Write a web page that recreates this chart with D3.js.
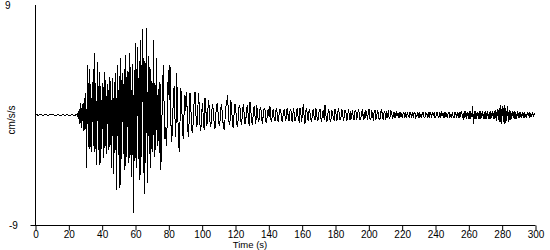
<!DOCTYPE html>
<html>
<head>
<meta charset="utf-8">
<script src="https://cdn.jsdelivr.net/npm/d3@7"></script>
<style>
  body { margin: 0; background: #fff; }
  svg { display: block; }
  text { font-family: "Liberation Sans", Arial, sans-serif; font-size: 10px; fill: #000; }
</style>
</head>
<body>
<svg width="550" height="250"></svg>
<script>
// acceleration record (cm/s/s)
const preEvent = [ // t = 0..25 s, every 1 s
  0.0, 0.03, -0.03, 0.02, 0.0, -0.02, 0.03, 0.0, -0.03, 0.02, 0.0, 0.03, -0.02,
  0.0, 0.02, -0.03, 0.0, 0.03, -0.02, 0.02, 0.0, -0.03, 0.03, 0.0, -0.02, 0.05
];
const strongMotion = [ // t = 25.5..75 s, every 0.5 s
  0.1, -0.3, 0.5, -0.7, 1.0, -1.1, 0.9, -1.3, 1.4, -1.2,
  1.8, -4.3, 4.1, -2.6, 3.8, -2.8, 2.5, -3.0, 2.7, -2.5,
  5.1, -3.0, 2.6, -4.1, 4.3, -2.9, 3.5, -4.1, 2.4, -2.8,
  2.6, -3.5, 3.5, -2.7, 2.9, -3.2, 2.5, -2.9, 3.1, -2.6,
  2.8, -4.3, 3.0, -4.8, 2.7, -3.1, 3.4, -6.1, 4.1, -3.3,
  3.2, -6.0, 4.7, -3.6, 3.4, -3.2, 3.8, -4.5, 4.9, -3.4,
  3.6, -3.9, 5.1, -3.5, 3.9, -5.1, 4.2, -8.0, 3.7, -3.8,
  5.9, -4.3, 5.6, -3.6, 4.4, -5.3, 6.1, -3.4, 7.0, 3.2,
  -6.5, 4.4, -3.9, 7.1, -5.6, 4.8, -3.2, 3.9, -4.3, 2.8,
  -3.0, 6.1, -3.4, 2.6, -2.9, 4.7, -2.5, 2.1, -3.1, 2.7
];
const coda = [ // t = 75.5..160 s, every 0.5 s
  -4.5, -1.5, 2.0, 4.1, 0.5, -2.0, -1.0, -2.5, 1.0, 3.7,
  1.2, 4.1, -0.5, -2.2, -1.0, 1.5, 2.4, -0.3, -1.8, 3.4,
  0.8, -1.5, -3.0, -0.6, 2.2, 1.0, -1.2, -2.0, 0.4, 1.6,
  0.3, 1.9, -0.8, -1.8, -0.5, 1.8, 0.6, -1.1, -1.5, -0.4,
  1.2, 1.9, 0.2, -1.0, -0.6, 1.8, 0.9, -0.8, -1.3, 0.1,
  1.0, -0.3, -1.2, 1.4, 0.5, -0.9, -0.4, 1.2, 0.7, -0.6,
  -1.0, 0.2, 0.9, 0.3, -0.7, -1.1, 0.1, 0.8, 1.0, -0.2,
  -0.9, -0.5, 0.6, 0.9, -0.3, -0.8, -1.2, -0.4, 0.7, 1.0,
  1.6, 0.3, -0.8, -0.5, 1.2, 0.6, -0.9, -1.0, 0.2, 0.9,
  0.4, -0.7, -1.0, -0.2, 0.8, 0.6, -0.5, -0.8, 0.3, 0.9,
  0.1, -0.7, -0.4, 0.5, 0.8, -0.2, -0.9, 1.1, 0.4, -0.6,
  -0.8, 0.2, 0.7, -0.1, -0.7, 0.8, 0.3, -0.6, -0.4, 0.5,
  0.6, -0.3, -0.7, 0.1, 0.6, 0.4, -0.5, -0.6, 0.3, 0.5,
  -0.2, 0.7, -0.4, -0.6, 0.2, 0.5, -0.3, -0.5, 0.4, 0.6,
  -0.2, -0.6, 0.1, 0.5, 0.3, -0.4, -0.6, 0.2, 0.5, -0.1,
  -0.5, 0.4, 0.6, -0.3, -0.5, 0.3, 0.5, -0.4, -0.6, 0.6,
  0.2, -0.5, -0.3, 0.4, 0.5, -0.4, -0.5, 0.6, 0.2, -0.6
];
const tail = [ // t = 160.5..300 s, every 0.5 s
  0.3, 0.9, -0.2, -0.7, 0.4, 0.6, -0.3, -0.5, 0.5, 0.2,
  -0.4, -0.6, 0.3, 0.5, -0.2, -0.4, 0.6, 0.1, -0.5, -0.3,
  0.4, 0.5, -0.3, -0.6, 0.2, 0.4, -0.4, 0.8, 0.1, -0.6,
  -0.3, 0.5, 0.3, -0.4, -0.5, 0.4, 0.2, -0.3, -0.4, 0.5,
  0.3, -0.5, -0.2, 0.6, 0.2, -0.4, -0.3, 0.4, 0.3, -0.5,
  -0.2, 0.4, 0.3, -0.4, -0.3, 0.5, 0.1, -0.4, 0.3, -0.3,
  0.4, -0.2, -0.4, 0.3, 0.4, -0.3, -0.2, 0.5, 0.2, -0.4,
  -0.3, 0.3, 0.4, -0.4, 0.2, -0.3, 0.4, 0.1, -0.4, 0.3,
  0.5, -0.3, -0.4, 0.3, 0.2, -0.5, 0.3, 0.4, -0.3, -0.2,
  0.4, 0.2, -0.4, -0.3, 0.3, 0.5, -0.2, -0.4, 0.3, 0.2,
  -0.4, 0.3, -0.2, 0.4, -0.3, -0.2, 0.3, 0.2, -0.3, 0.2,
  -0.2, 0.2, -0.2, 0.2, 0.1, -0.2, 0.2, -0.2, 0.2, -0.1,
  -0.2, 0.2, 0.1, -0.2, 0.2, -0.2, 0.2, -0.1, -0.2, 0.2,
  0.1, -0.2, 0.2, -0.2, 0.2, 0.2, -0.2, -0.1, 0.2, -0.2,
  0.2, -0.2, 0.1, -0.2, 0.2, 0.2, -0.2, -0.2, 0.2, 0.1,
  -0.2, 0.2, -0.2, 0.2, 0.1, -0.2, 0.2, -0.1, 0.2, -0.2,
  -0.2, 0.2, 0.2, -0.2, -0.1, 0.2, -0.2, 0.2, 0.1, -0.2,
  0.2, -0.2, 0.2, -0.1, -0.2, 0.2, 0.2, -0.2, 0.1, -0.2,
  0.2, -0.2, -0.2, 0.2, 0.1, -0.2, 0.2, -0.2, 0.2, -0.2,
  0.2, 0.3, -0.2, -0.3, 0.3, -0.2, 0.3, -0.3, 0.2, -0.3,
  0.3, -0.3, 0.3, -0.2, 0.7, -0.7, 0.3, -0.3, 0.3, -0.3,
  0.2, -0.3, 0.3, -0.3, 0.3, -0.2, 0.3, -0.3, 0.2, -0.3,
  0.3, -0.3, 0.3, -0.3, 0.2, -0.3, 0.3, -0.2, 0.3, -0.3,
  0.3, -0.3, 0.4, -0.5, 0.5, -0.4, 0.6, -0.6, 0.8, -0.7,
  0.7, -0.6, 0.8, -0.7, 0.6, -0.5, 0.7, -0.6, 0.4, -0.4,
  0.3, -0.3, 0.3, -0.2, 0.3, -0.3, 0.2, -0.3, 0.3, -0.2,
  0.2, -0.2, 0.2, -0.2, 0.2, -0.2, 0.2, -0.2, 0.1, -0.2,
  0.2, -0.1, 0.2, -0.2, 0.1, -0.1, 0.1, -0.1, 0.1, 0.0
];
const segments = [
  { start: 0, step: 1, values: preEvent },
  { start: 25.5, step: 0.5, values: strongMotion },
  { start: 75.5, step: 0.5, values: coda },
  { start: 160.5, step: 0.5, values: tail }
];
const xTicks = [0, 20, 40, 60, 80, 100, 120, 140, 160, 180, 200, 220, 240, 260, 280, 300];
const yLabels = [9, -9];

const svg = d3.select("svg");

const x = d3.scaleLinear().domain([0, 300]).range([35, 535]);
const y = d3.scaleLinear().domain([-9, 9]).range([225, 5]);

const points = [];
segments.forEach((s) => {
  s.values.forEach((v, i) => points.push([s.start + i * s.step, v]));
});

// waveform
svg.append("path")
  .datum(points)
  .attr("d", d3.line().x((d) => x(d[0])).y((d) => y(d[1])))
  .attr("fill", "none")
  .attr("stroke", "#000")
  .attr("stroke-width", 1)
  .attr("shape-rendering", "crispEdges");

// y axis line
svg.append("line")
  .attr("x1", x(0) + 0.5).attr("x2", x(0) + 0.5)
  .attr("y1", y(9)).attr("y2", y(-9))
  .attr("stroke", "#000");

// x axis
const xAxis = svg.append("g")
  .attr("transform", `translate(0.5,${y(-9) + 0.5})`)
  .call(d3.axisBottom(x).tickValues(xTicks).tickSize(5).tickSizeOuter(0).tickPadding(0));
xAxis.select(".domain").remove();
xAxis.selectAll("line").attr("stroke", "#000");
xAxis.selectAll("text").attr("font-family", null).attr("font-size", null);
xAxis.append("line")
  .attr("x1", x(0) - 5).attr("x2", x(300))
  .attr("stroke", "#000");

// y labels
svg.selectAll(".ylab")
  .data(yLabels)
  .enter()
  .append("text")
  .attr("class", "ylab")
  .attr("x", (d) => (d > 0 ? 5 : 9))
  .attr("y", (d) => y(d) + 4)
  .text((d) => d);

svg.append("text")
  .attr("transform", `translate(15,${y(0) + 5}) rotate(-90)`)
  .attr("text-anchor", "middle")
  .text("cm/s/s");

svg.append("text")
  .attr("x", 250)
  .attr("y", 248.3)
  .attr("text-anchor", "middle")
  .style("font-size", "9.5px")
  .text("Time (s)");
</script>
</body>
</html>
